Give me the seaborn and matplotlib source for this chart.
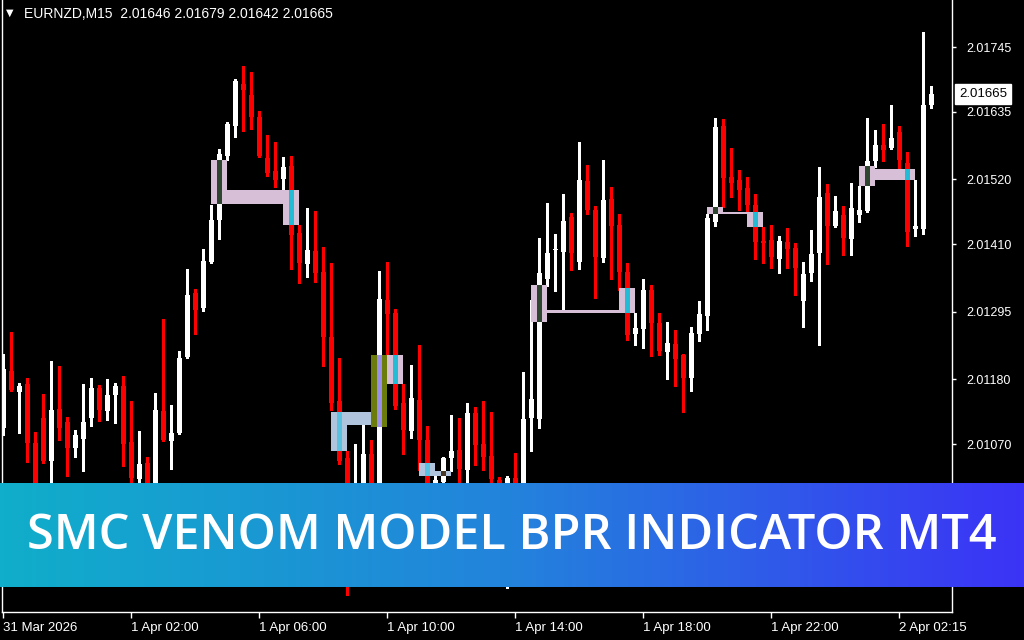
import numpy as np
import pandas as pd
import matplotlib
matplotlib.use("Agg")
import matplotlib.pyplot as plt
import matplotlib.transforms as mtransforms
from matplotlib.patches import Rectangle
from matplotlib.colors import LinearSegmentedColormap
import seaborn as sns

SYMBOL = "EURNZD,M15"
TITLE = "SMC VENOM MODEL BPR INDICATOR MT4"

# OHLC of the 117 visible M15 bars
opens = [
    2.01097, 2.01194, 2.01159, 2.01172, 2.01072, 2.01114, 2.01041, 2.01130, 2.01108, 2.01063,
    2.01079, 2.01114, 2.01165, 2.01126, 2.01154, 2.01169, 2.01074, 2.01011, 2.01038, 2.00975,
    2.01126, 2.01075, 2.01089, 2.01218, 2.01327, 2.01301, 2.01380, 2.01451, 2.01560, 2.01611,
    2.01682, 2.01664, 2.01626, 2.01556, 2.01534, 2.01521, 2.01543, 2.01429, 2.01376, 2.01398,
    2.01363, 2.01252, 2.01143, 2.01046, 2.00924, 2.00975, 2.01053, 2.00958, 2.01315, 2.01293,
    2.01140, 2.01092, 2.01145, 2.01077, 2.00995, 2.01006, 2.01046, 2.01060, 2.01026, 2.01123,
    2.01070, 2.01050, 2.01009, 2.00999, 2.01012, 2.00984, 2.01114, 2.01113, 2.01351, 2.01400,
    2.01397, 2.01456, 2.01380, 2.01517, 2.01468, 2.01386, 2.01487, 2.01443, 2.01363, 2.01257,
    2.01266, 2.01332, 2.01276, 2.01227, 2.01240, 2.01222, 2.01182, 2.01257, 2.01288, 2.01448,
    2.01611, 2.01524, 2.01519, 2.01505, 2.01476, 2.01415, 2.01417, 2.01385, 2.01414, 2.01403,
    2.01313, 2.01361, 2.01395, 2.01497, 2.01441, 2.01460, 2.01419, 2.01460, 2.01466, 2.01551,
    2.01579, 2.01573, 2.01601, 2.01548, 2.01436, 2.01436, 2.01646,
]
highs = [
    2.01223, 2.01261, 2.01174, 2.01182, 2.01091, 2.01155, 2.01211, 2.01203, 2.01116, 2.01094,
    2.01172, 2.01182, 2.01171, 2.01181, 2.01174, 2.01186, 2.01143, 2.01092, 2.01048, 2.01157,
    2.01283, 2.01136, 2.01228, 2.01368, 2.01334, 2.01402, 2.01476, 2.01572, 2.01618, 2.01691,
    2.01713, 2.01703, 2.01636, 2.01596, 2.01584, 2.01558, 2.01560, 2.01443, 2.01471, 2.01466,
    2.01405, 2.01378, 2.01216, 2.01058, 2.01070, 2.01103, 2.01077, 2.01364, 2.01380, 2.01300,
    2.01172, 2.01205, 2.01239, 2.01101, 2.01016, 2.01048, 2.01120, 2.01114, 2.01140, 2.01133,
    2.01143, 2.01125, 2.01014, 2.01016, 2.01055, 2.01193, 2.01315, 2.01420, 2.01480, 2.01427,
    2.01495, 2.01463, 2.01584, 2.01545, 2.01475, 2.01553, 2.01507, 2.01461, 2.01378, 2.01293,
    2.01351, 2.01341, 2.01293, 2.01278, 2.01264, 2.01223, 2.01269, 2.01313, 2.01461, 2.01624,
    2.01623, 2.01573, 2.01536, 2.01524, 2.01495, 2.01439, 2.01443, 2.01424, 2.01437, 2.01412,
    2.01380, 2.01434, 2.01541, 2.01512, 2.01492, 2.01475, 2.01514, 2.01509, 2.01624, 2.01604,
    2.01614, 2.01647, 2.01611, 2.01567, 2.01519, 2.01771, 2.01679,
]
lows = [
    2.01086, 2.01160, 2.01089, 2.01040, 2.00950, 2.01038, 2.00992, 2.01077, 2.01016, 2.01048,
    2.01024, 2.01101, 2.01109, 2.01111, 2.01106, 2.01033, 2.00992, 2.00995, 2.00958, 2.00966,
    2.01076, 2.01028, 2.01087, 2.01216, 2.01257, 2.01296, 2.01378, 2.01419, 2.01553, 2.01592,
    2.01602, 2.01606, 2.01558, 2.01526, 2.01507, 2.01502, 2.01368, 2.01344, 2.01354, 2.01346,
    2.01203, 2.01128, 2.01036, 2.00814, 2.00899, 2.00958, 2.00941, 2.00950, 2.01222, 2.01130,
    2.01053, 2.01080, 2.01026, 2.00966, 2.00989, 2.01002, 2.01024, 2.01004, 2.01004, 2.01035,
    2.01026, 2.01001, 2.00992, 2.00825, 2.00975, 2.00975, 2.01058, 2.01097, 2.01339, 2.01330,
    2.01296, 2.01366, 2.01368, 2.01461, 2.01318, 2.01380, 2.01351, 2.01332, 2.01247, 2.01239,
    2.01233, 2.01220, 2.01222, 2.01181, 2.01169, 2.01125, 2.01160, 2.01245, 2.01264, 2.01441,
    2.01473, 2.01490, 2.01468, 2.01465, 2.01385, 2.01378, 2.01369, 2.01361, 2.01369, 2.01323,
    2.01269, 2.01347, 2.01239, 2.01376, 2.01439, 2.01392, 2.01392, 2.01448, 2.01465, 2.01541,
    2.01551, 2.01572, 2.01536, 2.01407, 2.01424, 2.01427, 2.01642,
]
closes = [
    2.01198, 2.01162, 2.01169, 2.01072, 2.00975, 2.01041, 2.01128, 2.01097, 2.01063, 2.01086,
    2.01108, 2.01165, 2.01128, 2.01154, 2.01169, 2.01070, 2.01012, 2.01036, 2.00975, 2.01128,
    2.01077, 2.01089, 2.01216, 2.01323, 2.01298, 2.01381, 2.01451, 2.01563, 2.01614, 2.01687,
    2.01672, 2.01626, 2.01560, 2.01531, 2.01519, 2.01541, 2.01426, 2.01378, 2.01400, 2.01361,
    2.01252, 2.01140, 2.01041, 2.00907, 2.00984, 2.01053, 2.00966, 2.01317, 2.01291, 2.01135,
    2.01094, 2.01148, 2.01077, 2.00992, 2.01009, 2.01046, 2.01058, 2.01028, 2.01123, 2.01069,
    2.01048, 2.01011, 2.00997, 2.01012, 2.00992, 2.01113, 2.01147, 2.01361, 2.01395, 2.01402,
    2.01449, 2.01395, 2.01519, 2.01468, 2.01388, 2.01485, 2.01441, 2.01363, 2.01256, 2.01267,
    2.01332, 2.01276, 2.01228, 2.01242, 2.01215, 2.01182, 2.01259, 2.01291, 2.01454, 2.01609,
    2.01522, 2.01514, 2.01502, 2.01476, 2.01414, 2.01412, 2.01388, 2.01415, 2.01402, 2.01369,
    2.01359, 2.01393, 2.01490, 2.01441, 2.01466, 2.01420, 2.01471, 2.01468, 2.01551, 2.01579,
    2.01570, 2.01590, 2.01553, 2.01431, 2.01441, 2.01647, 2.01665,
]

time_ticks = [0, 16, 32, 48, 64, 80, 96, 112]
time_labels = ["31 Mar 2026", "1 Apr 02:00", "1 Apr 06:00", "1 Apr 10:00",
               "1 Apr 14:00", "1 Apr 18:00", "1 Apr 22:00", "2 Apr 02:15"]
price_ticks = [2.01070, 2.01180, 2.01295, 2.01410, 2.01520, 2.01635, 2.01745]

# BPR / FVG zones drawn by the indicator: bar span and price range
zone_from = [26, 28, 35, 41, 43, 46, 48, 52, 54, 66, 68, 77, 88, 90, 93, 107, 109]
zone_to = [28, 35, 37, 43, 46, 48, 50, 54, 56, 68, 77, 79, 90, 93, 95, 109, 114]
zone_top = [2.01553, 2.01502, 2.01502, 2.01125, 2.01125, 2.01221, 2.01221, 2.01038, 2.01024,
            2.01340, 2.01298, 2.01335, 2.01473, 2.01465, 2.01465, 2.01543, 2.01538]
zone_bottom = [2.01478, 2.01478, 2.01443, 2.01058, 2.01102, 2.01099, 2.01172, 2.01016, 2.01016,
               2.01278, 2.01293, 2.01293, 2.01461, 2.01461, 2.01439, 2.01509, 2.01519]
zone_kind = ["bpr", "bpr", "bpr", "fvg", "fvg", "ob", "bpr", "fvg", "fvg",
             "bpr", "bpr", "bpr", "bpr", "bpr", "bpr", "bpr", "bpr"]

# single-bar markers inside the zones
mark_bar = [27, 36, 42, 47, 49, 53, 55, 67, 78, 89, 94, 108, 113]
mark_top = [2.01553, 2.01502, 2.01125, 2.01221, 2.01221, 2.01038, 2.01024,
            2.01340, 2.01335, 2.01473, 2.01465, 2.01543, 2.01538]
mark_bottom = [2.01478, 2.01443, 2.01058, 2.01099, 2.01172, 2.01016, 2.01016,
               2.01278, 2.01293, 2.01461, 2.01439, 2.01509, 2.01519]
mark_kind = ["origin", "fill", "fill_fvg", "ob_mid", "fill", "fill_fvg", "brown",
             "origin", "fill", "origin", "fill", "origin", "fill"]

ZONE_COLORS = {"bpr": "#D8BFD8", "fvg": "#B0C4DE", "ob": "#6B7B0C"}
MARK_COLORS = {"origin": "#2E4630", "fill": "#22BCD6", "fill_fvg": "#58C2E0",
               "ob_mid": "#9A8FEA", "brown": "#4A3826"}

sns.set_theme(style="dark", rc={
    "axes.facecolor": "black", "figure.facecolor": "black",
    "axes.edgecolor": "white", "axes.grid": False,
})
plt.rcParams["font.family"] = ["Liberation Sans", "DejaVu Sans"]

df = pd.DataFrame({"open": opens, "high": highs, "low": lows, "close": closes})
assert len(df) == 117
df["bar"] = np.arange(len(df))
df["bull"] = df["close"] >= df["open"]
df["color"] = np.where(df["bull"], "white", "#FF0000")
# MT4 always draws at least one pixel of body
body = df["close"] - df["open"]
body = np.where(np.abs(body) < 0.000017, np.where(df["bull"], 0.000017, -0.000017), body)

fig = plt.figure(figsize=(10.24, 6.4), dpi=100)
ax = fig.add_axes([2 / 1024, 28 / 640, 950 / 1024, 612 / 640])

ax.vlines(df["bar"], df["low"], df["high"], colors=df["color"], linewidth=1.0,
          antialiased=False, zorder=2)
ax.bar(df["bar"], body, bottom=df["open"], width=0.625, color=df["color"],
       linewidth=0, zorder=2)

for x0, x1, top, bot, kind in zip(zone_from, zone_to, zone_top, zone_bottom, zone_kind):
    ax.add_patch(Rectangle((x0, bot), x1 - x0, top - bot, facecolor=ZONE_COLORS[kind],
                           edgecolor="none", zorder=3))
for b, top, bot, kind in zip(mark_bar, mark_top, mark_bottom, mark_kind):
    ax.add_patch(Rectangle((b - 0.3125, bot), 0.625, top - bot, facecolor=MARK_COLORS[kind],
                           edgecolor="none", zorder=4))

ax.set_xlim(-0.125, 118.625)
ax.set_ylim(2.007846, 2.01825)

for side in ["left", "bottom", "right"]:
    ax.spines[side].set_color("white")
    ax.spines[side].set_linewidth(1.0)
ax.spines["top"].set_visible(False)

ax.set_xticks(time_ticks)
ax.set_xticklabels(time_labels)
for lab in ax.get_xticklabels():
    lab.set_horizontalalignment("left")
ax.tick_params(axis="x", bottom=True, colors="white", length=4, width=1, pad=3,
               labelsize=9.5)

ax.yaxis.tick_right()
ax.set_yticks(price_ticks)
ax.set_yticklabels([f"{p:.5f}" for p in price_ticks])
ax.tick_params(axis="y", right=True, left=False, colors="white", length=3, width=1,
               pad=7, labelsize=9)

# current price tag
tr = mtransforms.blended_transform_factory(ax.transAxes, ax.transData)
ax.text(1.0075, closes[-1], f"{closes[-1]:.5f}", transform=tr, color="black",
        fontsize=9.5, ha="left", va="center", clip_on=False,
        bbox=dict(boxstyle="square,pad=0.28", facecolor="white", edgecolor="white"))

# header line
fig.text(6 / 1024, 1 - 13 / 640, "\u25BC", color="white", fontsize=7,
         family="DejaVu Sans", ha="left", va="center")
fig.text(24 / 1024, 1 - 14 / 640,
         f"{SYMBOL}  {opens[-1]:.5f} {highs[-1]:.5f} {lows[-1]:.5f} {closes[-1]:.5f}",
         color="white", fontsize=10, ha="left", va="center")

# gradient banner
bax = fig.add_axes([0, 53 / 640, 1, 104 / 640], zorder=5)
cmap = LinearSegmentedColormap.from_list("banner", ["#10AECA", "#2383DC", "#3B33F6"])
bax.imshow(np.linspace(0, 1, 512).reshape(1, -1), aspect="auto", cmap=cmap,
           extent=[0, 1, 0, 1])
bax.set_axis_off()
bax.text(0.5, 0.49, TITLE, color="white", fontsize=35, fontweight="semibold",
         family="Open Sans", ha="center", va="center")

fig.savefig("out.png", dpi=100, facecolor="black")
